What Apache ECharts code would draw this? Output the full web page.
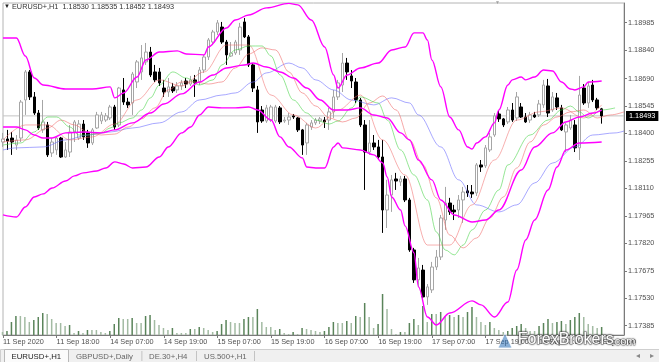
<!DOCTYPE html>
<html><head><meta charset="utf-8">
<script src="https://cdn.jsdelivr.net/npm/echarts@6/dist/echarts.min.js"></script>
<style>html,body{margin:0;padding:0;background:#fff}#c{width:659px;height:362px}</style>
</head><body><div id="c"></div>
<script>
const FONT = '"Liberation Sans", Arial, sans-serif';
const priceTicks = [1.17385,1.17530,1.17675,1.17820,1.17965,1.18110,1.18255,1.18400,1.18545,1.18690,1.18840,1.18985];
const timeTickIdx = [0,12,24,36,48,60,72,84,96,108,120,132];
const timeTickText = ["11 Sep 2020","11 Sep 18:00","14 Sep 07:00","14 Sep 19:00","15 Sep 07:00","15 Sep 19:00","16 Sep 07:00","16 Sep 19:00","17 Sep 07:00","17 Sep 19:00","18 Sep 07:00","18 Sep 19:00"];
const header = "EURUSD+,H1  1.18530 1.18535 1.18452 1.18493";
const lastPrice = 1.18493;

const open=[1.18355,1.18371,1.18376,1.18339,1.18376,1.18577,1.18725,1.18593,1.18508,1.18419,
1.18445,1.18297,1.18313,1.18376,1.18276,1.18302,1.18408,1.18376,1.18450,1.18403,
1.18350,1.18429,1.18466,1.18471,1.18482,1.18540,1.18445,1.18630,1.18566,1.18561,
1.18672,1.18725,1.18778,1.18830,1.18725,1.18725,1.18640,1.18619,1.18646,1.18630,
1.18651,1.18677,1.18661,1.18683,1.18672,1.18735,1.18804,1.18883,1.18936,1.18962,
1.18883,1.18809,1.18825,1.18841,1.18989,1.18910,1.18762,1.18630,1.18524,1.18466,
1.18471,1.18466,1.18535,1.18466,1.18471,1.18493,1.18482,1.18419,1.18350,1.18434,
1.18456,1.18466,1.18471,1.18471,1.18514,1.18593,1.18656,1.18772,1.18704,1.18672,
1.18577,1.18445,1.18302,1.18350,1.18329,1.18276,1.17996,1.18075,1.18160,1.18144,
1.18160,1.18049,1.17785,1.17627,1.17679,1.17537,1.17574,1.17695,1.17748,1.17943,
1.18033,1.17996,1.17996,1.18049,1.18097,1.18091,1.18086,1.18234,1.18229,1.18313,
1.18392,1.18503,1.18477,1.18461,1.18524,1.18482,1.18540,1.18487,1.18471,1.18498,
1.18498,1.18551,1.18651,1.18524,1.18588,1.18535,1.18408,1.18429,1.18445,1.18324,
1.18640,1.18561,1.18656,1.18577,1.18530];
const high=[1.18403,1.18419,1.18408,1.18392,1.18577,1.18735,1.18735,1.18619,1.18524,1.18577,
1.18461,1.18376,1.18382,1.18382,1.18355,1.18445,1.18471,1.18471,1.18471,1.18419,
1.18429,1.18514,1.18514,1.18508,1.18551,1.18551,1.18646,1.18693,1.18588,1.18725,
1.18788,1.18867,1.18878,1.18857,1.18762,1.18746,1.18683,1.18693,1.18667,1.18672,
1.18683,1.18693,1.18704,1.18709,1.18751,1.18815,1.18904,1.18947,1.18999,1.18989,
1.18894,1.18883,1.18894,1.18984,1.19010,1.18920,1.18772,1.18651,1.18545,1.18551,
1.18551,1.18551,1.18545,1.18487,1.18508,1.18503,1.18487,1.18424,1.18456,1.18471,
1.18482,1.18487,1.18487,1.18535,1.18630,1.18683,1.18825,1.18799,1.18735,1.18693,
1.18588,1.18471,1.18471,1.18392,1.18366,1.18366,1.18155,1.18181,1.18192,1.18176,
1.18176,1.18060,1.17796,1.17743,1.17706,1.17605,1.17722,1.17785,1.17970,1.18118,
1.18060,1.18023,1.18075,1.18118,1.18128,1.18128,1.18244,1.18260,1.18339,1.18403,
1.18508,1.18519,1.18482,1.18540,1.18561,1.18619,1.18561,1.18508,1.18514,1.18514,
1.18577,1.18683,1.18688,1.18619,1.18614,1.18551,1.18456,1.18498,1.18471,1.18704,
1.18661,1.18672,1.18683,1.18588,1.18535];
const low=[1.18329,1.18313,1.18287,1.18313,1.18355,1.18498,1.18577,1.18498,1.18419,1.18403,
1.18276,1.18276,1.18287,1.18271,1.18271,1.18276,1.18355,1.18366,1.18366,1.18324,
1.18339,1.18424,1.18450,1.18461,1.18471,1.18419,1.18434,1.18551,1.18535,1.18498,
1.18640,1.18683,1.18762,1.18698,1.18672,1.18651,1.18593,1.18593,1.18614,1.18614,
1.18630,1.18640,1.18651,1.18593,1.18656,1.18720,1.18788,1.18867,1.18920,1.18873,
1.18762,1.18804,1.18815,1.18815,1.18904,1.18751,1.18619,1.18403,1.18456,1.18456,
1.18461,1.18456,1.18450,1.18456,1.18445,1.18477,1.18408,1.18287,1.18287,1.18419,
1.18445,1.18450,1.18429,1.18419,1.18482,1.18577,1.18619,1.18683,1.18640,1.18561,
1.18434,1.18102,1.18287,1.18313,1.18260,1.17875,1.17901,1.17986,1.18102,1.18123,
1.18038,1.17775,1.17611,1.17590,1.17521,1.17495,1.17558,1.17679,1.17732,1.17891,
1.17970,1.17943,1.17954,1.17928,1.18065,1.18060,1.18070,1.18197,1.18218,1.18302,
1.18382,1.18461,1.18434,1.18450,1.18461,1.18466,1.18482,1.18456,1.18456,1.18482,
1.18487,1.18535,1.18487,1.18514,1.18524,1.18413,1.18302,1.18419,1.18302,1.18260,
1.18551,1.18535,1.18566,1.18524,1.18452];
const close=[1.18371,1.18360,1.18355,1.18366,1.18566,1.18725,1.18593,1.18508,1.18429,1.18461,
1.18287,1.18355,1.18376,1.18276,1.18313,1.18408,1.18461,1.18450,1.18382,1.18350,
1.18419,1.18498,1.18498,1.18493,1.18540,1.18434,1.18640,1.18566,1.18551,1.18714,
1.18778,1.18799,1.18830,1.18709,1.18683,1.18667,1.18619,1.18646,1.18625,1.18651,
1.18667,1.18661,1.18683,1.18667,1.18735,1.18804,1.18894,1.18936,1.18984,1.18883,
1.18815,1.18825,1.18883,1.18962,1.18910,1.18762,1.18640,1.18461,1.18466,1.18535,
1.18540,1.18540,1.18461,1.18471,1.18487,1.18487,1.18419,1.18339,1.18445,1.18456,
1.18471,1.18477,1.18461,1.18514,1.18593,1.18667,1.18772,1.18725,1.18677,1.18577,
1.18445,1.18302,1.18350,1.18329,1.18276,1.17996,1.18075,1.18155,1.18149,1.18160,
1.18049,1.17785,1.17627,1.17690,1.17537,1.17590,1.17695,1.17748,1.17954,1.18033,
1.17986,1.17986,1.18049,1.18091,1.18086,1.18081,1.18234,1.18223,1.18324,1.18382,
1.18493,1.18477,1.18445,1.18524,1.18471,1.18593,1.18487,1.18461,1.18498,1.18487,
1.18556,1.18656,1.18508,1.18593,1.18540,1.18419,1.18445,1.18471,1.18324,1.18603,
1.18561,1.18651,1.18577,1.18535,1.18493];
const volume=[300,400,1300,1900,1900,1800,1300,1500,1800,2200,
2100,1600,1200,1200,900,1000,200,400,200,500,
500,500,300,200,400,1100,1700,1600,1600,1700,
1200,1200,1900,2000,1500,1000,700,500,700,200,
200,200,600,600,800,700,500,300,400,1100,
1500,1300,1200,1200,1600,1800,1800,2600,1300,800,
800,500,600,200,100,300,100,700,600,500,
400,300,400,800,1300,1200,1200,1400,1200,1900,
1800,3200,1800,700,1100,4100,2600,600,100,300,
300,1200,1600,1000,2900,1300,2100,2100,2300,1900,
2000,1800,2000,1800,2300,2800,1800,1300,1000,1300,
700,500,300,400,700,900,1100,700,400,400,
900,1200,1600,1200,1300,1400,1100,1500,1800,2200,
1800,1100,900,700,800];

const upperBand=[[0,1.18904],[3,1.18904],[5,1.18809],[7,1.18693],[9,1.18656],[14,1.18635],[20,1.18635],[24,1.18646],[25,1.18588],[27,1.18614],[30,1.18698],[32,1.18788],[35,1.18830],[39,1.18836],[41,1.18820],[45,1.18815],[46,1.18857],[50,1.18957],[52,1.18999],[55,1.19026],[59,1.19063],[64,1.19087],[66,1.19079],[69,1.18999],[72,1.18857],[74,1.18709],[75,1.18640],[77,1.18709],[80,1.18746],[84,1.18772],[87,1.18841],[90,1.18857],[92,1.18931],[94,1.18931],[95,1.18894],[96,1.18788],[98,1.18646],[100,1.18487],[102,1.18419],[104,1.18329],[105,1.18318],[106,1.18350],[108,1.18382],[110,1.18456],[111,1.18524],[113,1.18656],[114,1.18683],[116,1.18698],[117,1.18683],[119,1.18698],[121,1.18735],[123,1.18730],[125,1.18672],[127,1.18635],[128,1.18630],[130,1.18646],[131,1.18672],[134,1.18677]];
const midBand=[[0,1.18434],[3,1.18434],[5,1.18419],[7,1.18392],[9,1.18376],[11,1.18376],[14,1.18403],[18,1.18408],[22,1.18403],[25,1.18419],[29,1.18456],[33,1.18508],[36,1.18556],[40,1.18609],[44,1.18672],[47,1.18709],[50,1.18746],[54,1.18762],[56,1.18772],[59,1.18751],[62,1.18725],[65,1.18693],[68,1.18640],[71,1.18577],[74,1.18524],[77,1.18524],[80,1.18535],[83,1.18498],[86,1.18482],[89,1.18403],[91,1.18366],[93,1.18260],[96,1.18155],[98,1.18049],[101,1.17970],[105,1.17933],[108,1.17943],[111,1.17996],[116,1.18207],[119,1.18329],[123,1.18403],[126,1.18461],[129,1.18487],[132,1.18508],[134,1.18524]];
const lowerBand=[[0,1.17970],[3,1.17959],[5,1.18012],[7,1.18065],[9,1.18081],[11,1.18112],[14,1.18149],[16,1.18176],[18,1.18192],[21,1.18202],[23,1.18218],[25,1.18250],[27,1.18239],[29,1.18218],[32,1.18223],[35,1.18276],[37,1.18329],[40,1.18403],[42,1.18434],[44,1.18498],[46,1.18540],[49,1.18535],[52,1.18535],[55,1.18540],[57,1.18524],[60,1.18471],[62,1.18382],[64,1.18329],[67,1.18271],[68,1.18223],[70,1.18218],[72,1.18218],[74,1.18329],[75,1.18350],[76,1.18324],[80,1.18313],[83,1.18287],[85,1.18244],[86,1.18170],[87,1.18065],[89,1.17996],[90,1.17912],[92,1.17769],[93,1.17590],[95,1.17431],[97,1.17389],[100,1.17452],[105,1.17516],[107,1.17495],[110,1.17431],[113,1.17510],[115,1.17679],[117,1.17838],[119,1.17943],[122,1.18102],[124,1.18223],[126,1.18313],[129,1.18350],[134,1.18355]];
const lipsLine=[[0,1.18339],[4,1.18350],[7,1.18408],[10,1.18487],[12,1.18487],[15,1.18434],[17,1.18392],[19,1.18392],[22,1.18403],[24,1.18429],[26,1.18456],[29,1.18482],[31,1.18524],[33,1.18588],[35,1.18656],[38,1.18725],[41,1.18693],[44,1.18656],[47,1.18683],[49,1.18762],[52,1.18841],[55,1.18862],[58,1.18862],[60,1.18809],[62,1.18709],[65,1.18577],[68,1.18508],[70,1.18471],[73,1.18450],[75,1.18466],[78,1.18535],[80,1.18593],[84,1.18561],[86,1.18471],[89,1.18313],[92,1.18181],[95,1.18049],[97,1.17880],[99,1.17785],[101,1.17759],[103,1.17811],[105,1.17891],[108,1.17996],[111,1.18102],[113,1.18234],[118,1.18392],[122,1.18471],[125,1.18524],[127,1.18545],[129,1.18514],[131,1.18482],[134,1.18524],[137,1.18535]];
const teethLine=[[0,1.18355],[5,1.18366],[10,1.18429],[13,1.18471],[16,1.18445],[19,1.18408],[22,1.18392],[25,1.18397],[28,1.18434],[31,1.18477],[34,1.18535],[37,1.18630],[40,1.18672],[43,1.18672],[46,1.18661],[49,1.18672],[52,1.18746],[55,1.18820],[58,1.18852],[61,1.18841],[64,1.18725],[67,1.18614],[70,1.18545],[73,1.18482],[76,1.18461],[79,1.18482],[82,1.18561],[85,1.18598],[88,1.18524],[91,1.18366],[94,1.18234],[97,1.18060],[100,1.17864],[103,1.17796],[106,1.17848],[109,1.17954],[112,1.18065],[115,1.18218],[118,1.18355],[121,1.18445],[124,1.18487],[127,1.18514],[130,1.18524],[133,1.18482],[136,1.18498],[139,1.18514]];
const maLine=[[0,1.18366],[5,1.18445],[10,1.18445],[15,1.18366],[20,1.18382],[25,1.18450],[30,1.18577],[35,1.18683],[40,1.18651],[45,1.18725],[50,1.18867],[55,1.18867],[60,1.18603],[65,1.18498],[70,1.18429],[75,1.18524],[80,1.18603],[85,1.18366],[90,1.18181],[95,1.17811],[100,1.17811],[105,1.18023],[110,1.18260],[115,1.18471],[120,1.18514],[125,1.18535],[130,1.18482],[134,1.18551]];
const jawLine=[[0,1.18313],[3,1.18324],[9,1.18329],[14,1.18366],[19,1.18392],[24,1.18408],[29,1.18429],[35,1.18456],[40,1.18514],[44,1.18577],[49,1.18603],[52,1.18614],[56,1.18672],[59,1.18720],[64,1.18772],[67,1.18746],[70,1.18683],[74,1.18630],[78,1.18577],[83,1.18551],[87,1.18588],[91,1.18561],[93,1.18498],[98,1.18329],[102,1.18155],[106,1.18023],[111,1.17986],[115,1.18023],[119,1.18139],[123,1.18244],[128,1.18329],[132,1.18392],[137,1.18403],[139,1.18413]];

// hourly categories: Fri 11 Sep from 06:00 to 22:00, then Mon 14 Sep onward
const categories = [];
(function(){
  let day = 11, hr = 6;
  for (let i = 0; i < 140; i++) {
    categories.push(day + ' Sep ' + String(hr).padStart(2,'0') + ':00');
    hr++;
    if (day === 11 && hr > 22) { day = 14; hr = 0; }
    else if (hr > 23) { day++; hr = 0; }
  }
})();
const lastIdx = categories.length - 1;

const ohlc = open.map((o,i)=>[o, close[i], low[i], high[i]]);
const volData = volume.map((v,i)=>({value:v, itemStyle:{color:(i>0 && v>volume[i-1]) ? '#5a845a' : '#a3bba3'}}));
const isTick = (i)=> timeTickIdx.indexOf(i) >= 0;

const thin = (name, data, color) => ({
  type:'line', name, data, xAxisIndex:0, yAxisIndex:0, showSymbol:false, smooth:0.35, smoothMonotone:'x',
  lineStyle:{color, width:1}, z:4, silent:true
});
const band = (name, data) => ({
  type:'line', name, data, xAxisIndex:0, yAxisIndex:0, showSymbol:false, smooth:0.35, smoothMonotone:'x',
  lineStyle:{color:'#ff00ff', width:1.4}, z:5, silent:true
});

const chart = echarts.init(document.getElementById('c'), null, {renderer:'canvas'});
chart.setOption({
  animation:false,
  backgroundColor:'#ffffff',
  textStyle:{fontFamily:FONT},
  grid:[
    {left:2.5, right:35, top:3, bottom:27, show:true, borderColor:'#b4b4b4', borderWidth:1},
    {left:2.5, right:35, top:235, bottom:27}
  ],
  xAxis:[
    {type:'category', gridIndex:0, data:categories, boundaryGap:false,
     axisLine:{lineStyle:{color:'#7a7a7a', width:1}},
     axisTick:{interval:(i)=>isTick(i), length:3, lineStyle:{color:'#7a7a7a'}},
     axisLabel:{interval:(i)=>isTick(i), formatter:(v,i)=>timeTickText[timeTickIdx.indexOf(i)] || '', align:'left', margin:3, fontSize:7.3, color:'#505050', fontFamily:FONT},
     splitLine:{show:false}},
    {type:'category', gridIndex:1, data:categories, boundaryGap:false, show:false}
  ],
  yAxis:[
    {type:'value', gridIndex:0, position:'right', min:1.17336, max:1.19089, scale:true,
     axisLine:{show:true, lineStyle:{color:'#7a7a7a', width:1}},
     axisTick:{show:true, customValues:priceTicks, length:3, lineStyle:{color:'#7a7a7a'}},
     axisLabel:{customValues:priceTicks, formatter:(v)=>v.toFixed(5), margin:4, fontSize:7.3, color:'#505050', fontFamily:FONT},
     splitLine:{show:false}},
    {type:'value', gridIndex:1, min:0, max:10000, show:false, splitLine:{show:false}}
  ],
  series:[
    {type:'bar', name:'Volumes', xAxisIndex:1, yAxisIndex:1, data:volData, barWidth:1.5, z:1, silent:true},
    {type:'line', name:'Bid', xAxisIndex:0, yAxisIndex:0, data:[[0,lastPrice],[lastIdx,lastPrice]],
     showSymbol:false, silent:true, z:2, lineStyle:{color:'#c4c4c4', width:1},
     endLabel:{show:true, formatter:()=>lastPrice.toFixed(5), backgroundColor:'#000', color:'#fff', padding:[2,3,1,3], fontSize:7.3, distance:2, fontFamily:FONT}},
    {type:'candlestick', name:'EURUSD+', xAxisIndex:0, yAxisIndex:0, data:ohlc, barWidth:3, z:3,
     itemStyle:{color:'#ffffff', color0:'#000000', borderColor:'#a6a6a6', borderColor0:'#000000', borderWidth:1}},
    thin('Jaw', jawLine, 'rgba(110,110,255,0.6)'),
    thin('MA', maLine, 'rgba(240,110,110,0.55)'),
    thin('Teeth', teethLine, 'rgba(240,110,110,0.6)'),
    thin('Lips', lipsLine, 'rgba(60,210,60,0.55)'),
    band('Upper', upperBand),
    band('Middle', midBand),
    band('Lower', lowerBand)
  ],
  graphic:[
    {type:'text', left:4, top:3, style:{text:'\u25BC', fill:'#222', font:'6px '+FONT}},
    {type:'text', left:12, top:3.5, style:{text:header, fill:'#333', font:'7.3px '+FONT}},
    {type:'text', left:495, top:0, style:{text:'\u25BC', fill:'#a0a0a0', font:'5px '+FONT}},
    {type:'rect', left:0, top:349, shape:{width:659, height:13}, style:{fill:'#f0f0f0', stroke:'#cfcfcf', lineWidth:1}, z:10},
    {type:'rect', left:4, top:349, shape:{width:64, height:13}, style:{fill:'#fbfbfb', stroke:'#b8b8b8', lineWidth:1}, z:11},
    {type:'text', left:11.5, top:352.5, style:{text:'EURUSD+,H1', fill:'#222', font:'7.8px '+FONT}, z:12},
    {type:'text', left:76, top:352.5, style:{text:'GBPUSD+,Daily', fill:'#666', font:'7.8px '+FONT}, z:12},
    {type:'text', left:149, top:352.5, style:{text:'DE.30+,H4', fill:'#666', font:'7.8px '+FONT}, z:12},
    {type:'text', left:204, top:352.5, style:{text:'US.500+,H1', fill:'#666', font:'7.8px '+FONT}, z:12},
    {type:'rect', left:141.5, top:351, shape:{width:0.8, height:10}, style:{fill:'#b8b8b8'}, z:12},
    {type:'rect', left:196, top:351, shape:{width:0.8, height:10}, style:{fill:'#b8b8b8'}, z:12},
    {type:'rect', left:254, top:351, shape:{width:0.8, height:10}, style:{fill:'#b8b8b8'}, z:12},
    {type:'text', left:636, top:352, style:{text:'\u25C2', fill:'#888', font:'8px '+FONT}, z:12},
    {type:'text', left:650, top:352, style:{text:'\u25B8', fill:'#888', font:'8px '+FONT}, z:12},
    {type:'polygon', shape:{points:[[505,333],[498,348],[512,348]]}, style:{fill:'rgba(40,110,180,0.55)', stroke:'rgba(255,255,255,0.8)', lineWidth:1}, z:20},
    {type:'text', left:517, top:331, style:{text:'ForexBrokers', fill:'#ffffff', font:'16px '+FONT, stroke:'rgba(90,90,90,0.45)', lineWidth:1.5, textShadowColor:'rgba(0,0,0,0.6)', textShadowBlur:2}, z:20},
    {type:'text', left:611, top:336, style:{text:'.com', fill:'#ffffff', font:'11px '+FONT, stroke:'rgba(90,90,90,0.45)', lineWidth:1.2, textShadowColor:'rgba(0,0,0,0.6)', textShadowBlur:2}, z:20}
  ]
});
</script>
</body></html>
